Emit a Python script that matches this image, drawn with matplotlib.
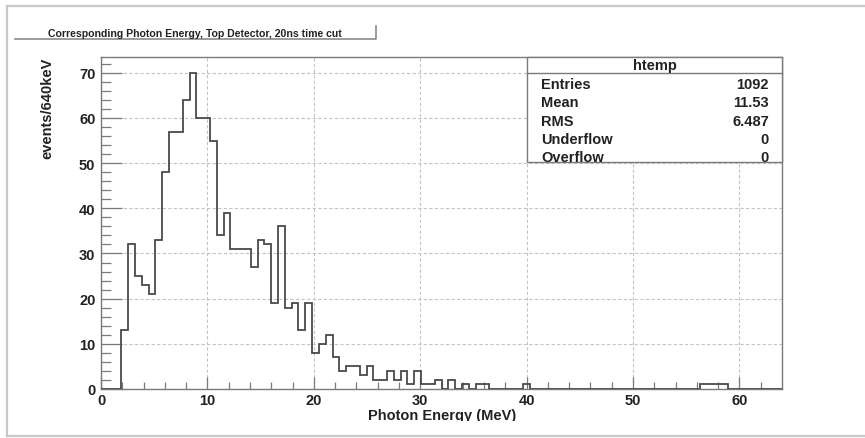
"""
Photon energy histogram, top detector, 20ns time cut (ROOT style look)
"""
import numpy as np
import matplotlib
matplotlib.use("Agg")
import matplotlib.pyplot as plt
from matplotlib.patches import Rectangle
from matplotlib.lines import Line2D

# histogram: 100 bins of 0.64 MeV from 0 to 64 MeV
bin_width = 0.64
n_bins = 100
counts = [0, 0, 0, 13, 32, 25, 23, 21, 33, 48,
          57, 57, 64, 70, 60, 60, 55, 34, 39, 31,
          31, 31, 27, 33, 32, 19, 36, 18, 19, 13,
          19, 8, 10, 12, 7, 4, 5, 5, 3, 5,
          2, 2, 4, 2, 4, 1, 4, 1, 1, 2,
          0, 2, 0, 1, 0, 1, 1, 0, 0, 0,
          0, 0, 1, 0, 0, 0, 0, 0, 0, 0,
          0, 0, 0, 0, 0, 0, 0, 0, 0, 0,
          0, 0, 0, 0, 0, 0, 0, 0, 1, 1,
          1, 1, 0, 0, 0, 0, 0, 0, 0, 0]

stat_names = ["Entries", "Mean", "RMS", "Underflow", "Overflow"]
stat_values = ["1092", "11.53", "6.487", "0", "0"]

title = "Corresponding Photon Energy, Top Detector, 20ns time cut"
xlabel = "Photon Energy (MeV)"
ylabel = "events/640keV"

W, H = 865, 439
FONT = "Liberation Sans"
TXT = "#222222"


def fx(px):
    return px / W


def fy(py):
    return 1 - py / H


fig = plt.figure(figsize=(W / 100, H / 100), dpi=100)
fig.patch.set_facecolor("white")

# canvas window border
for (x0, y0, x1, y1) in [(7, 7, 865, 7), (7, 7, 7, 437), (7, 437, 865, 437)]:
    fig.add_artist(Line2D([fx(x0), fx(x1)], [fy(y0), fy(y1)],
                          color="#c8c8c8", lw=1.6, transform=fig.transFigure))

# main frame
left, right, top, bottom = 101, 782, 58, 390
ax = fig.add_axes([fx(left), fy(bottom), fx(right) - fx(left), fy(top) - fy(bottom)])

edges = np.arange(n_bins + 1) * bin_width
ax.stairs(counts, edges, color="#4a4a4a", lw=1.3, zorder=3)

ax.set_xlim(0, 64)
ax.set_ylim(0, 73.5)
ax.set_xticks(np.arange(0, 61, 10))
ax.set_yticks(np.arange(0, 71, 10))
ax.set_xticks(np.arange(0, 64, 2), minor=True)
ax.set_yticks(np.arange(0, 73, 2), minor=True)
ax.grid(True, which="major", color="#c4c4c4", lw=0.8, ls=(0, (3, 2)))
ax.set_axisbelow(True)

for s in ax.spines.values():
    s.set_color("#7a7a7a")
    s.set_linewidth(1.0)

ax.tick_params(axis="both", which="both", direction="in", color="#7a7a7a",
               labelcolor=TXT, width=0.9)
ax.tick_params(axis="y", which="major", length=15, pad=4)
ax.tick_params(axis="y", which="minor", length=7.5)
ax.tick_params(axis="x", which="major", length=8.5, pad=3)
ax.tick_params(axis="x", which="minor", length=5)
for lab in ax.get_xticklabels() + ax.get_yticklabels():
    lab.set_fontfamily(FONT)
    lab.set_fontweight("bold")
    lab.set_fontsize(10.5)

# axis titles
fig.text(fx(47), fy(58), ylabel, rotation=90, ha="center", va="top",
         fontsize=10.5, fontweight="bold", family=FONT, color=TXT)
clip_bottom = Rectangle((0, fy(422)), 1, 1, transform=fig.transFigure)
xl = fig.text(fx(442), fy(420), xlabel, ha="center", va="baseline",
              fontsize=10.5, fontweight="bold", family=FONT, color=TXT)
xl.set_clip_path(clip_bottom)

# title pave, top clipped
fig.add_artist(Line2D([fx(15), fx(376), fx(376)], [fy(40), fy(40), fy(27)],
                      color="#8a8a8a", lw=1.2, transform=fig.transFigure))
clip_top = Rectangle((0, 0), 1, fy(28), transform=fig.transFigure)
tt = fig.text(fx(195), fy(37), title, ha="center", va="baseline",
              fontsize=7.6, fontweight="bold", family=FONT, color=TXT)
tt.set_clip_path(clip_top)

# stats box
bx0, bx1, by0, by1 = 527, 782, 58, 163
fig.add_artist(Rectangle((fx(bx0), fy(by1)), fx(bx1) - fx(bx0), fy(by0) - fy(by1),
                         transform=fig.transFigure, facecolor="white",
                         edgecolor="#7a7a7a", lw=1.0, zorder=5))
fig.add_artist(Line2D([fx(bx0), fx(bx1)], [fy(74), fy(74)], color="#7a7a7a",
                      lw=1.0, transform=fig.transFigure, zorder=6))
fig.text(fx((bx0 + bx1) / 2), fy(66), "htemp", ha="center", va="center",
         fontsize=10.5, fontweight="bold", family=FONT, color=TXT, zorder=7)
row_y = [85, 103, 122, 140, 158]
for name, val, yy in zip(stat_names, stat_values, row_y):
    fig.text(fx(541), fy(yy), name, ha="left", va="center", fontsize=10.5,
             fontweight="bold", family=FONT, color=TXT, zorder=7)
    fig.text(fx(769), fy(yy), val, ha="right", va="center", fontsize=10.5,
             fontweight="bold", family=FONT, color=TXT, zorder=7)

fig.savefig("out.png", dpi=100)
